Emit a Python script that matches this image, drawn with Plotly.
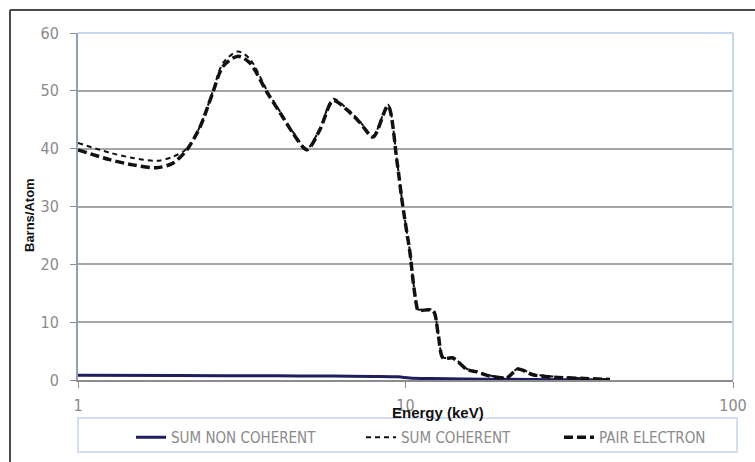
import plotly.graph_objects as go

# ---- data ----
energy_kev = [1.0, 1.25, 1.47, 1.74, 1.95, 2.15, 2.36, 2.58, 2.77, 3.08, 3.35, 3.78, 4.14, 4.53,
              5.0, 5.48, 6.01, 6.63, 7.26, 7.96, 8.84, 9.42, 9.76, 10.03, 10.32, 10.54, 10.8,
              10.92, 12.13, 12.57, 13.02, 13.96, 15.41, 16.53, 17.74, 20.4, 22.06, 24.5, 28.2,
              34.1, 42.1]
pair_electron = [39.8, 38.1, 37.2, 36.7, 37.5, 39.8, 43.8, 49.7, 54.2, 56.0, 54.8, 49.7, 46.2, 42.7,
                 39.8, 43.3, 48.3, 46.7, 44.5, 42.0, 47.4, 37.8, 31.0, 26.5, 22.0, 17.3, 13.0,
                 12.1, 12.0, 8.1, 3.8, 3.8, 1.8, 1.4, 0.8, 0.4, 1.9, 0.9, 0.5, 0.3, 0.1]
sum_coherent = [41.0, 39.3, 38.4, 37.9, 38.6, 40.0, 43.9, 49.9, 54.8, 56.8, 55.5, 50.0, 46.4, 42.9,
                40.0, 43.5, 48.6, 46.9, 44.7, 42.2, 47.6, 37.9, 31.1, 26.6, 22.1, 17.4, 13.1,
                12.2, 12.1, 8.2, 3.9, 3.9, 1.9, 1.5, 0.9, 0.5, 2.0, 1.0, 0.6, 0.3, 0.1]
energy_nc = [1.0, 2.0, 4.0, 6.0, 8.0, 9.5, 10.3, 12.0, 15.0, 20.0, 30.0, 42.1]
sum_non_coherent = [0.8, 0.78, 0.72, 0.68, 0.62, 0.55, 0.35, 0.25, 0.18, 0.12, 0.06, 0.03]

y_ticks = [0, 10, 20, 30, 40, 50, 60]
x_ticks = [1, 10, 100]
x_tick_labels = ["1", "10", "100"]

# ---- layout geometry (pixels) ----
W, H = 755, 462
L, R, T, B = 78, 22, 33, 82
PW, PH = W - L - R, H - T - B


def px(x):
    return (x - L) / PW


def py(y):
    return (H - B - y) / PH


narrow = "DejaVu Sans Condensed, Liberation Sans Narrow, sans-serif"
tick_font = dict(family=narrow, size=16, color="#8a8a8a")
legend_font = dict(family=narrow, size=15, color="#8a8a8a")


def legend_at(xpix):
    return dict(orientation="h", x=px(xpix), y=py(421), xanchor="left", yanchor="top",
                bgcolor="rgba(255,255,255,0)", borderwidth=0, font=legend_font)


fig = go.Figure()
fig.add_trace(go.Scatter(
    x=energy_nc, y=sum_non_coherent, name="SUM NON COHERENT", mode="lines", legend="legend",
    line=dict(color="#1e1e5e", width=3, shape="spline", smoothing=0.8)))
fig.add_trace(go.Scatter(
    x=energy_kev, y=sum_coherent, name="SUM COHERENT", mode="lines", legend="legend2",
    line=dict(color="#111111", width=2, dash="5px,4px", shape="spline", smoothing=0.8)))
fig.add_trace(go.Scatter(
    x=energy_kev, y=pair_electron, name="PAIR ELECTRON", mode="lines", legend="legend3",
    line=dict(color="#111111", width=3.5, dash="9px,4px", shape="spline", smoothing=0.8)))

fig.update_layout(
    width=W, height=H,
    margin=dict(l=L, r=R, t=T, b=B, pad=0, autoexpand=False),
    paper_bgcolor="white", plot_bgcolor="white",
    showlegend=True,
    legend=legend_at(131),
    legend2=legend_at(361),
    legend3=legend_at(559),
    xaxis=dict(
        type="log", range=[0, 2], tickvals=x_ticks, ticktext=x_tick_labels,
        showgrid=False, zeroline=False,
        showline=True, linecolor="#8c8c8c", linewidth=2,
        ticks="outside", ticklen=6, tickcolor="#8c8c8c", tickwidth=1,
        ticklabelstandoff=4, tickfont=tick_font,
    ),
    yaxis=dict(
        range=[0, 60], tickvals=y_ticks,
        showgrid=True, gridcolor="#a6a6a6", gridwidth=2, zeroline=False,
        showline=True, linecolor="#8e9fbd", linewidth=2,
        ticks="outside", ticklen=6, tickcolor="#8c8c8c", tickwidth=1,
        ticklabelstandoff=8, tickfont=tick_font,
    ),
    shapes=[
        # outer frame (top and left)
        dict(type="line", xref="paper", yref="paper", x0=px(10), x1=px(760), y0=py(10), y1=py(10),
             line=dict(color="#4a4a4a", width=2)),
        dict(type="line", xref="paper", yref="paper", x0=px(10), x1=px(10), y0=py(10), y1=py(470),
             line=dict(color="#4a4a4a", width=2)),
        # plot area top/right border
        dict(type="line", xref="paper", yref="paper", x0=0, x1=1, y0=1, y1=1,
             line=dict(color="#c6d5f0", width=2)),
        dict(type="line", xref="paper", yref="paper", x0=1, x1=1, y0=0, y1=1,
             line=dict(color="#c6d5f0", width=2)),
        # legend box
        dict(type="rect", xref="paper", yref="paper", x0=px(78), x1=px(737), y0=py(418), y1=py(452),
             line=dict(color="#d3def3", width=2), fillcolor="rgba(0,0,0,0)"),
    ],
    annotations=[
        dict(text="<b>Energy (keV)</b>", xref="paper", yref="paper", x=px(438), y=py(412),
             xanchor="center", yanchor="middle", showarrow=False,
             font=dict(family="Liberation Sans, Arial, sans-serif", size=15, color="#111111")),
        dict(text="<b>Barns/Atom</b>", xref="paper", yref="paper", x=px(29), y=py(215),
             xanchor="center", yanchor="middle", showarrow=False, textangle=-90,
             font=dict(family="Liberation Sans, Arial, sans-serif", size=13, color="#111111")),
    ],
)

fig.write_html("out.html", config={"displayModeBar": False},
               post_script="document.body.style.margin='0';document.body.style.overflow='hidden';")
